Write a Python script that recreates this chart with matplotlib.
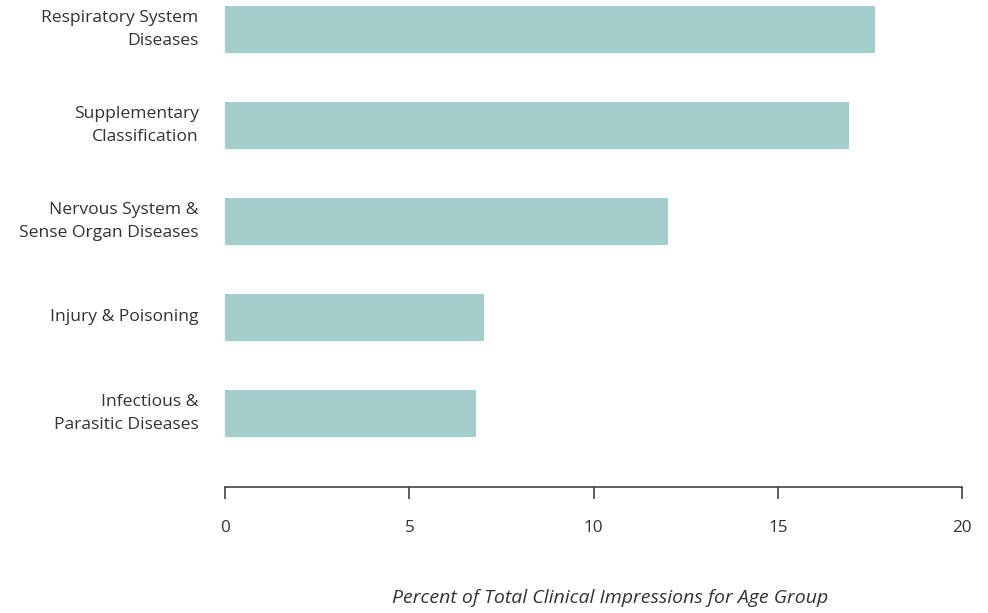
import numpy as np
import matplotlib.pyplot as plt

plt.rcParams['font.family'] = ['Open Sans', 'DejaVu Sans']

categories = ['Infectious &\nParasitic Diseases',
              'Injury & Poisoning',
              'Nervous System &\nSense Organ Diseases',
              'Supplementary\nClassification',
              'Respiratory System\nDiseases']
values = [6.81, 7.03, 12.02, 16.93, 17.64]
xticks = [0, 5, 10, 15, 20]

text_color = '#333333'
bar_color = '#a3cecc'

fig = plt.figure(figsize=(9.88, 6.13), dpi=100)
ax = fig.add_axes([225 / 988, 126 / 613, 737 / 988, 487 / 613])

y = np.arange(len(categories))
ax.barh(y, values, height=0.49, color=bar_color)

ax.set_xlim(0, 20)
ax.set_ylim(-0.766, 4.307)

for side in ['top', 'right', 'left']:
    ax.spines[side].set_visible(False)
ax.spines['bottom'].set_color(text_color)
ax.spines['bottom'].set_linewidth(1.1)

ax.set_xticks(xticks)
ax.set_xticklabels([str(t) for t in xticks])
ax.tick_params(axis='x', direction='out', length=8.6, width=1.1,
               color=text_color, labelcolor=text_color, labelsize=12.3, pad=15.5)
ax.set_yticks(y)
ax.set_yticklabels(categories, ha='right', va='center', multialignment='right',
                   linespacing=1.62)
ax.tick_params(axis='y', length=0, pad=19, labelcolor=text_color, labelsize=12.6)

ax.set_xlabel('Percent of Total Clinical Impressions for Age Group',
              style='italic', fontsize=14, color=text_color)
ax.xaxis.set_label_coords(0.522, -0.21)

fig.savefig('out.png', dpi=100)
